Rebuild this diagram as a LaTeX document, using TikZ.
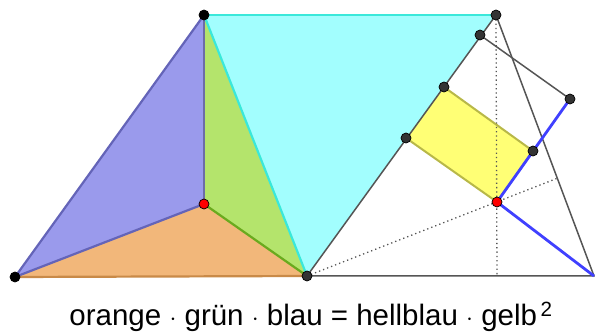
\documentclass[tikz,border=0pt]{standalone}
\usepackage{fontspec}
\setmainfont{Liberation Sans}
\usetikzlibrary{positioning}
\definecolor{blaufill}{HTML}{9A9AEC}
\definecolor{blauline}{HTML}{6464B8}
\definecolor{gruenfill}{HTML}{B4E46C}
\definecolor{gruenline}{HTML}{6AAA1E}
\definecolor{orangefill}{HTML}{F2B77A}
\definecolor{orangeline}{HTML}{C98A48}
\definecolor{hellfill}{HTML}{A2FEFE}
\definecolor{hellline}{HTML}{3AE8DA}
\definecolor{gelbfill}{HTML}{FFFF66}
\definecolor{gelbline}{HTML}{B8B848}
\definecolor{ptgray}{HTML}{333333}
\definecolor{linegray}{HTML}{555555}

\begin{document}
\begin{tikzpicture}[x=1pt, y=-1pt,
  dot/.style={circle, draw=black, fill=#1, inner sep=0pt, minimum size=10pt, line width=0.7pt},
  dot/.default=ptgray,
  edge/.style={line width=2.2pt, line join=round},
  grayline/.style={draw=linegray, line width=1.5pt},
  dotline/.style={draw=linegray, line width=1.3pt, dash pattern=on 1.3pt off 3pt},
  blueline/.style={draw=blue!75, line width=2.8pt},
  ]
  \useasboundingbox (0,0) rectangle (595,336);

  % points
  \coordinate (A) at (15,277);
  \coordinate (C) at (204,15);
  \coordinate (P) at (204,204);
  \coordinate (B) at (307,276);
  \coordinate (T) at (496,15);
  \coordinate (R) at (594,276);
  \coordinate (Q) at (497,202);
  \coordinate (F) at (497,276);
  \coordinate (S) at (558,178);
  \coordinate (Y1) at (406,138);
  \coordinate (Y2) at (444,87);
  \coordinate (Y3) at (533,151);
  \coordinate (U) at (480,35);
  \coordinate (V) at (570,99);

  % areas
  \fill[hellfill] (C) -- (T) -- (B) -- cycle;
  \fill[blaufill] (A) -- (C) -- (P) -- cycle;
  \fill[gruenfill] (C) -- (P) -- (B) -- cycle;
  \fill[orangefill] (A) -- (P) -- (B) -- cycle;
  \fill[gelbfill, opacity=0.9] (Q) -- (Y1) -- (Y2) -- (Y3) -- cycle;

  % right triangle
  \draw[dotline] (T) -- (F);
  \draw[dotline] (B) -- (S);
  \draw[grayline] (B) -- (R) -- (T) -- (B);
  \draw[grayline] (U) -- (V);
  \draw[gelbline, line width=2pt] (Y1) -- (Q) -- (Y3) -- (Y2);
  \draw[blueline] (V) -- (Q) -- (R);

  % edges
  \draw[edge, hellline] (C) -- (T);
  \draw[edge, hellline] (C) -- (B);
  \draw[edge, blauline] (A) -- (C);
  \draw[edge, blauline] (A) -- (P);
  \draw[edge, blauline!70!gray] (C) -- (P);
  \draw[edge, gruenline] (P) -- (B);
  \draw[edge, orangeline] (A) -- (B);

  % dots
  \node[dot=black] (nA) at (A) {};
  \node[dot=black] (nC) at (C) {};
  \node[dot] (nB) at (B) {};
  \node[dot] (nT) at (T) {};
  \node[dot] (nU) at (U) {};
  \node[dot] (nV) at (V) {};
  \node[dot] (nY1) at (Y1) {};
  \node[dot] (nY2) at (Y2) {};
  \node[dot] (nY3) at (Y3) {};
  \node[dot=red] (nP) at (P) {};
  \node[dot=red] (nQ) at (Q) {};

  \node[font=\fontsize{29.5}{32}\selectfont] (formel) at (311,317)
    {orange $\cdot$ grün $\cdot$ blau = hellblau $\cdot$ gelb\textsuperscript{\,2}};
\end{tikzpicture}
\end{document}
